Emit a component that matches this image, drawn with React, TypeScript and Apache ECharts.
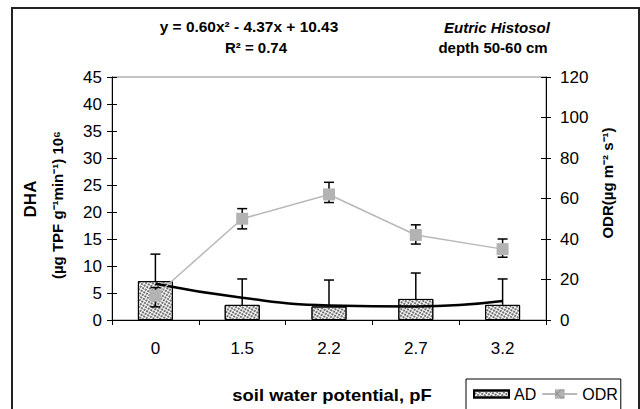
import React, { useEffect, useRef } from "react";
import * as echarts from "echarts";

const categories = ["0", "1.5", "2.2", "2.7", "3.2"];
const adValues = [7.2, 2.8, 2.5, 3.9, 2.8];
const adErrorTop = [12.2, 7.6, 7.4, 8.7, 7.6];
const odrValues = [12, 50, 62, 42, 35];
const odrErrorLow = [6.5, 45, 58, 37.5, 31];
const odrErrorHigh = [16, 55, 68, 47, 40];
const trendValues = [6.7, 4.1, 2.7, 2.5, 3.5];
const leftTicks = { min: 0, max: 45, interval: 5 };
const rightTicks = { min: 0, max: 120, interval: 20 };

const FONT = "'Liberation Sans', Arial, sans-serif";

export default function App() {
  const ref = useRef<HTMLDivElement>(null);
  useEffect(() => {
    if (!ref.current) return;
    const chart = echarts.init(ref.current, null, { renderer: "svg" });

    const errRender = (withLow: boolean) => (params: any, api: any) => {
      const x = api.value(0);
      const lo = api.value(1);
      const hi = api.value(2);
      const pLo = api.coord([x, lo]);
      const pHi = api.coord([x, hi]);
      const hw = 5;
      const st = { stroke: "#000", lineWidth: 1.5 };
      const children: any[] = [
        { type: "line", shape: { x1: pLo[0], y1: pLo[1], x2: pHi[0], y2: pHi[1] }, style: st },
        { type: "line", shape: { x1: pHi[0] - hw, y1: pHi[1], x2: pHi[0] + hw, y2: pHi[1] }, style: st },
      ];
      if (withLow) {
        children.push({ type: "line", shape: { x1: pLo[0] - hw, y1: pLo[1], x2: pLo[0] + hw, y2: pLo[1] }, style: st });
      }
      return { type: "group", children };
    };

    const decal = {
      symbol: "circle",
      symbolSize: 1,
      dashArrayX: [2, 1],
      dashArrayY: [2, 1],
      color: "#555",
    };

    const tickAxis = (range: any, position: string, inside: boolean, labels: boolean, margin: number) => ({
      type: "value",
      ...range,
      position,
      axisLine: { show: labels, lineStyle: { color: "#000", width: 1 } },
      axisTick: { show: true, inside, length: 5, lineStyle: { color: "#000" } },
      axisLabel: { show: labels, color: "#000", fontSize: 17, fontFamily: FONT, margin },
      splitLine: { show: false },
    });

    chart.setOption({
      animation: false,
      aria: { enabled: true, decal: { show: true } },
      grid: {
        left: 112,
        right: 94,
        top: 77,
        bottom: 89,
        containLabel: false,
        show: true,
        borderColor: "#8a8a8a",
        borderWidth: 1,
      },
      xAxis: {
        type: "category",
        data: categories,
        boundaryGap: true,
        axisLine: { lineStyle: { color: "#000", width: 1 } },
        axisTick: { show: true, length: 5, lineStyle: { color: "#000" } },
        axisLabel: { color: "#000", fontSize: 17, fontFamily: FONT, margin: 20 },
      },
      yAxis: [
        tickAxis(leftTicks, "left", false, true, 10),
        tickAxis(rightTicks, "right", false, true, 14),
        tickAxis(leftTicks, "left", true, false, 10),
        tickAxis(rightTicks, "right", true, false, 14),
      ],
      legend: {
        left: 466,
        top: 379,
        orient: "horizontal",
        data: [{ name: "AD", icon: "path://M0 0H35V7H0Z" }, { name: "ODR" }],
        itemWidth: 35,
        itemHeight: 12,
        itemGap: 5,
        itemTextGap: 4,
        padding: [7, 3, 30, 7],
        borderColor: "#000",
        borderWidth: 1,
        borderRadius: 0,
        selectedMode: false,
        textStyle: { color: "#000", fontSize: 16, fontFamily: FONT },
      },
      graphic: [
        {
          type: "rect",
          shape: { x: 12, y: 8, width: 627, height: 430 },
          style: { fill: "none", stroke: "#222", lineWidth: 2 },
          z: 0,
        },
        {
          type: "text",
          x: 249,
          y: 27,
          scaleX: 1.03,
          style: {
            text: "y = 0.60x² - 4.37x + 10.43",
            font: `bold 15px ${FONT}`,
            fill: "#000",
            textAlign: "center",
            textVerticalAlign: "middle",
          },
        },
        {
          type: "text",
          x: 256,
          y: 47,
          style: {
            text: "R² = 0.74",
            font: `bold 15px ${FONT}`,
            fill: "#000",
            textAlign: "center",
            textVerticalAlign: "middle",
          },
        },
        {
          type: "text",
          x: 497,
          y: 27,
          style: {
            text: "Eutric Histosol",
            font: `italic bold 15px ${FONT}`,
            fill: "#000",
            textAlign: "center",
            textVerticalAlign: "middle",
          },
        },
        {
          type: "text",
          x: 493,
          y: 47,
          style: {
            text: "depth 50-60 cm",
            font: `bold 15px ${FONT}`,
            fill: "#000",
            textAlign: "center",
            textVerticalAlign: "middle",
          },
        },
        {
          type: "text",
          x: 332,
          y: 395,
          scaleX: 1.15,
          style: {
            text: "soil water potential, pF",
            font: `bold 16px ${FONT}`,
            fill: "#000",
            textAlign: "center",
            textVerticalAlign: "middle",
          },
        },
        {
          type: "text",
          x: 30,
          y: 199,
          rotation: Math.PI / 2,
          style: {
            text: "DHA",
            font: `bold 17px ${FONT}`,
            fill: "#000",
            textAlign: "center",
            textVerticalAlign: "middle",
          },
        },
        {
          type: "text",
          x: 57,
          y: 205,
          rotation: Math.PI / 2,
          style: {
            text: "(µg TPF g⁻¹min⁻¹) 10⁶",
            font: `bold 15px ${FONT}`,
            fill: "#000",
            textAlign: "center",
            textVerticalAlign: "middle",
          },
        },
        {
          type: "text",
          x: 607,
          y: 183,
          rotation: Math.PI / 2,
          style: {
            text: "ODR(µg m⁻² s⁻¹)",
            font: `bold 15px ${FONT}`,
            fill: "#000",
            textAlign: "center",
            textVerticalAlign: "middle",
          },
        },
      ],
      series: [
        {
          name: "AD",
          type: "bar",
          data: adValues,
          barWidth: 35,
          yAxisIndex: 0,
          itemStyle: { color: "#fff", borderColor: "#000", borderWidth: 1, decal },
          z: 2,
        },
        {
          name: "ADerr",
          type: "custom",
          yAxisIndex: 0,
          data: adValues.map((v, i) => [i, v, adErrorTop[i]]),
          encode: { x: 0, y: [1, 2] },
          renderItem: errRender(false),
          itemStyle: { decal: "none" },
          z: 3,
        },
        {
          name: "trend",
          type: "line",
          yAxisIndex: 0,
          data: trendValues,
          smooth: true,
          showSymbol: false,
          symbol: "none",
          lineStyle: { color: "#000", width: 2.5 },
          itemStyle: { color: "#000", decal: "none" },
          z: 4,
        },
        {
          name: "ODRerr",
          type: "custom",
          yAxisIndex: 1,
          data: odrValues.map((v, i) => [i, odrErrorLow[i], odrErrorHigh[i]]),
          encode: { x: 0, y: [1, 2] },
          renderItem: errRender(true),
          itemStyle: { decal: "none" },
          z: 5,
        },
        {
          name: "ODR",
          type: "line",
          yAxisIndex: 1,
          data: odrValues,
          symbol: "rect",
          symbolSize: 12,
          lineStyle: { color: "#b8b8b8", width: 1.5 },
          itemStyle: { color: "#b3b3b3", decal: "none" },
          z: 6,
        },
      ],
    });
    return () => chart.dispose();
  }, []);

  return (
    <div
      ref={ref}
      style={{ position: "fixed", left: 0, top: 0, width: 640, height: 409, background: "#fff" }}
    />
  );
}
